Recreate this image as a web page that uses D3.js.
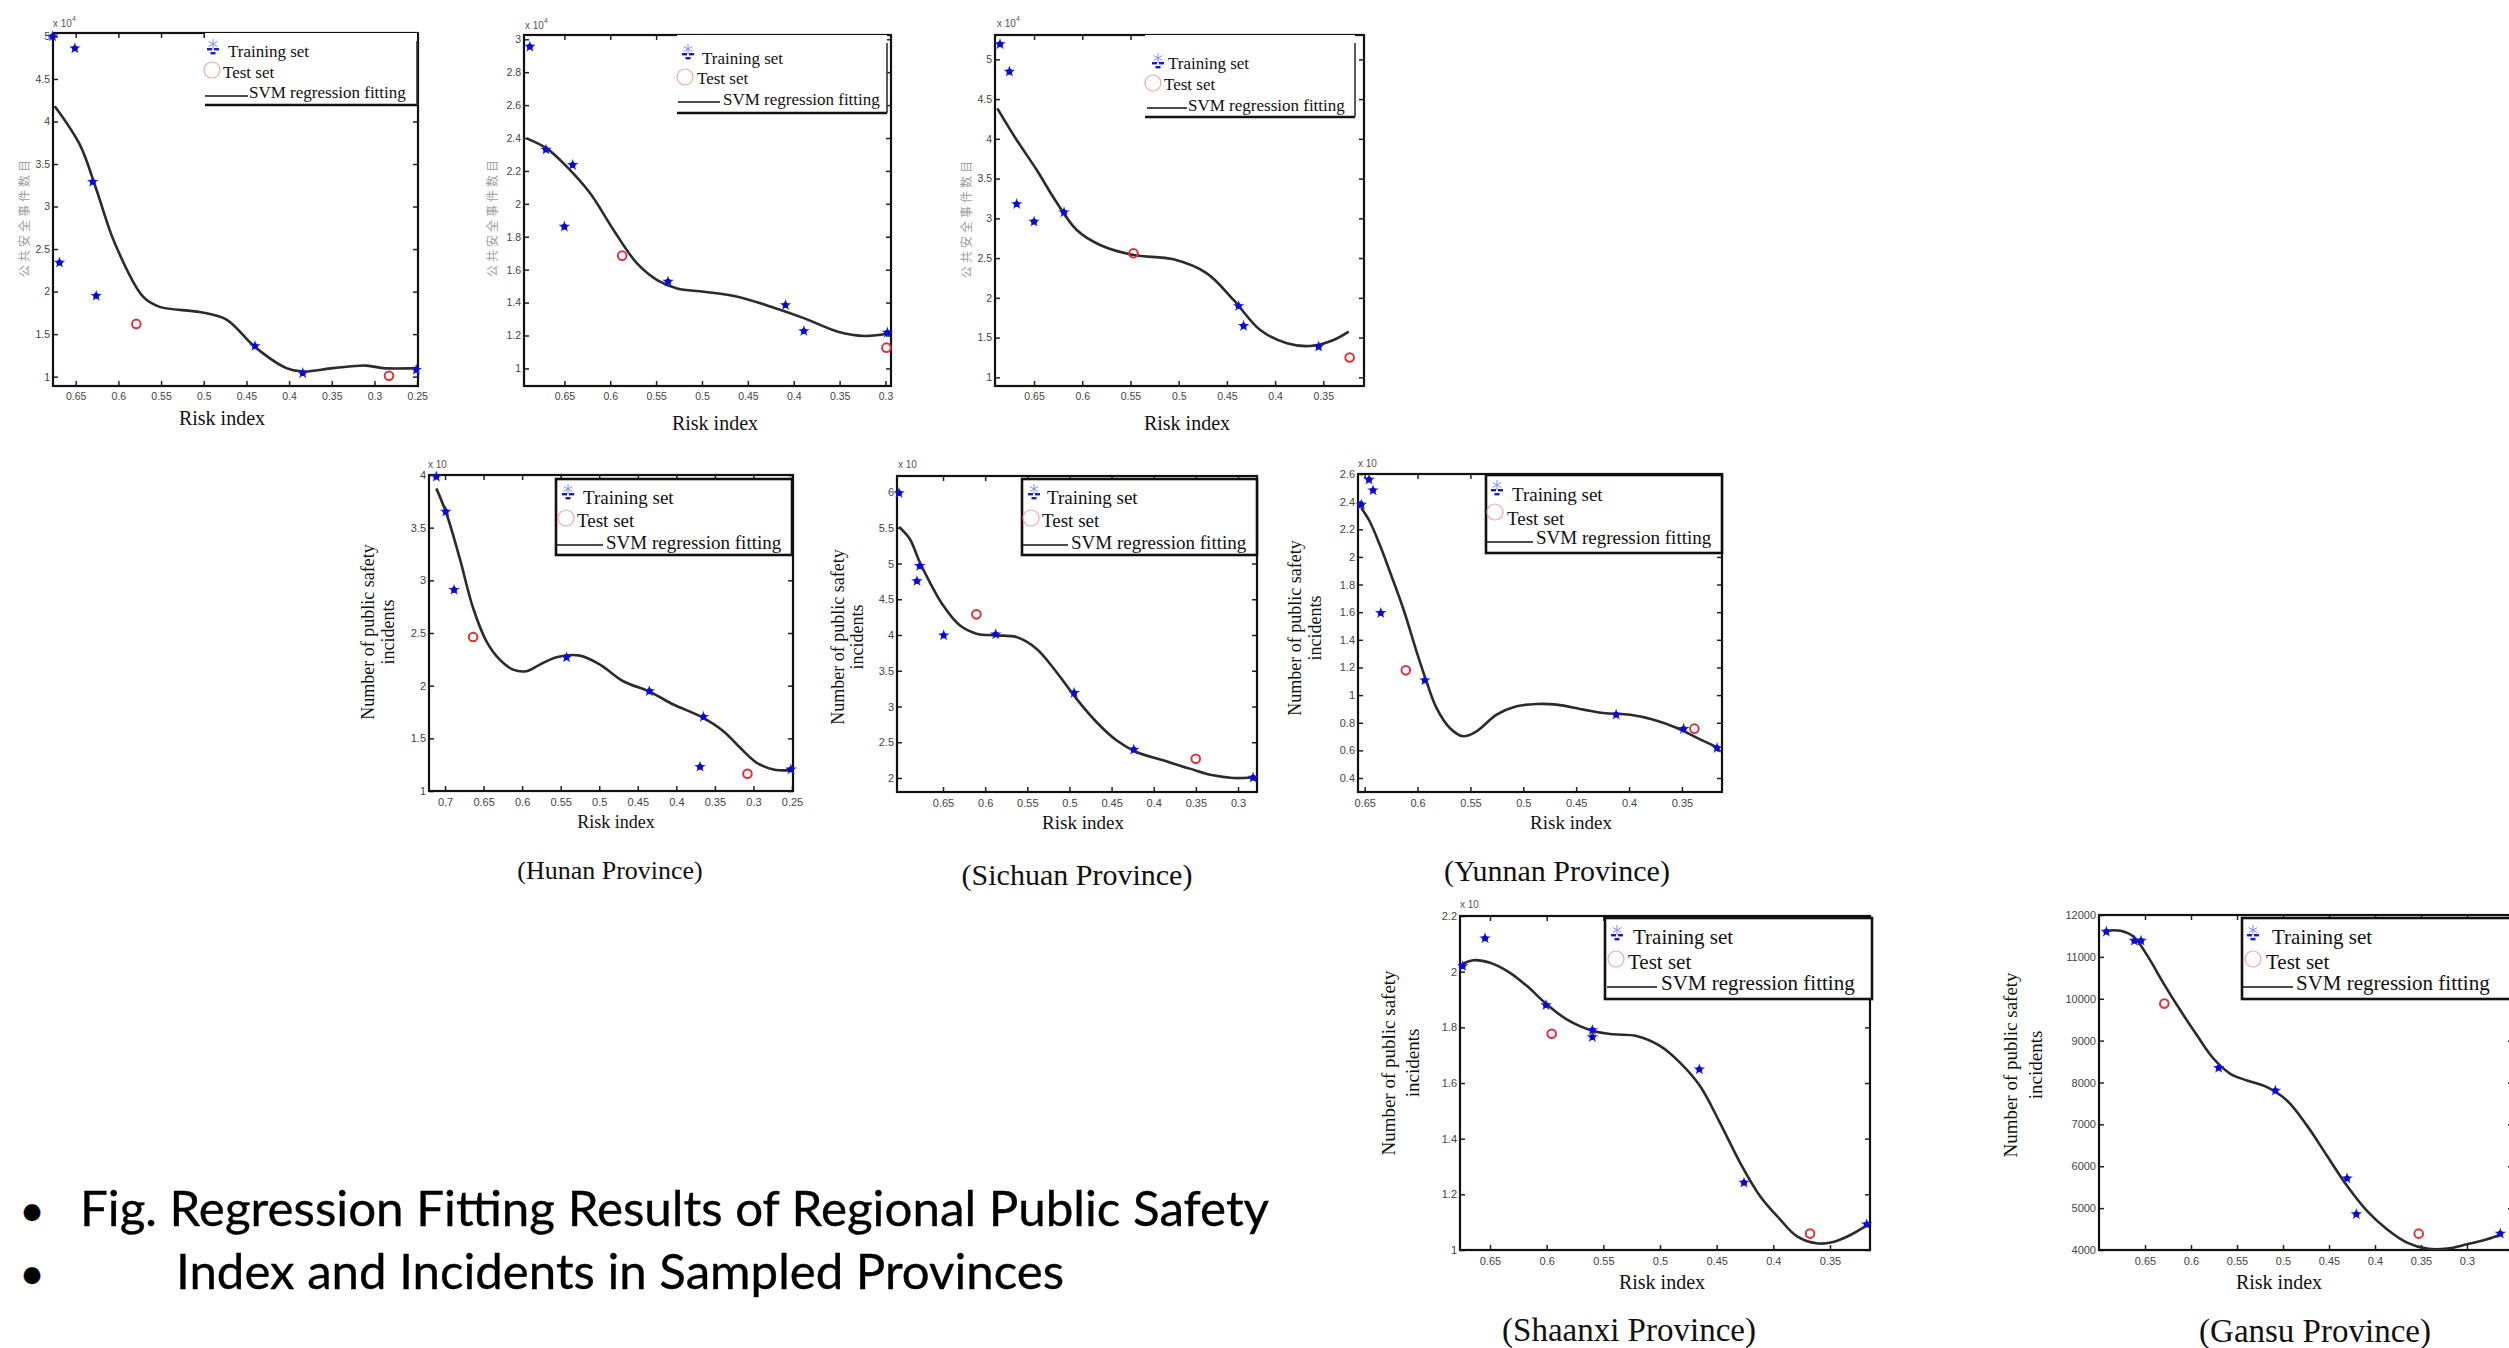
<!DOCTYPE html>
<html>
<head>
<meta charset="utf-8">
<script src="https://cdn.jsdelivr.net/npm/d3@7"></script>
<style>
  html, body { margin: 0; padding: 0; background: #ffffff; }
  svg { display: block; }
</style>
</head>
<body>
<svg id="chart" width="2509" height="1348"></svg>
<script>
// ---------------- DATA ----------------
const provinceNames = ["", "", "", "(Hunan Province)", "(Sichuan Province)", "(Yunnan Province)", "(Shaanxi Province)", "(Gansu Province)"];

const aTrain = [[0.677,5.0],[0.651,4.86],[0.630,3.29],[0.669,2.34],[0.626,1.95],[0.440,1.36],[0.384,1.04],[0.251,1.08]];
const aTest  = [[0.579,1.62],[0.283,1.01]];
const aFit   = [[0.6746,4.18],[0.6453,3.73],[0.6258,3.20],[0.6043,2.57],[0.5711,1.94],[0.5516,1.82],[0.5047,1.76],[0.4734,1.67],[0.4402,1.35],[0.4031,1.10],[0.3836,1.06],[0.3484,1.10],[0.3094,1.13],[0.2898,1.10],[0.2508,1.10]];
const aXTicks = [0.65,0.6,0.55,0.5,0.45,0.4,0.35,0.3,0.25];
const aYTicks = [1,1.5,2,2.5,3,3.5,4,4.5,5];

const bTrain = [[0.6876,2.955],[0.670,2.33],[0.641,2.236],[0.650,1.861],[0.537,1.527],[0.409,1.385],[0.389,1.227],[0.298,1.217]];
const bTest  = [[0.587,1.685],[0.299,1.126]];
const bFit   = [[0.6912,2.398],[0.6693,2.337],[0.6474,2.226],[0.6219,2.064],[0.5964,1.841],[0.5708,1.638],[0.5489,1.537],[0.5270,1.486],[0.4978,1.466],[0.4613,1.436],[0.4248,1.375],[0.3883,1.304],[0.3518,1.223],[0.3226,1.197],[0.2953,1.213]];
const bXTicks = [0.65,0.6,0.55,0.5,0.45,0.4,0.35,0.3];
const bYTicks = [1,1.2,1.4,1.6,1.8,2,2.2,2.4,2.6,2.8,3];

const cTrain = [[0.6853,5.19],[0.6756,4.845],[0.668,3.18],[0.65,2.958],[0.6189,3.075],[0.4379,1.897],[0.4327,1.646],[0.3548,1.386]];
const cTest  = [[0.5469,2.56],[0.3227,1.25]];
const cFit   = [[0.6881,4.384],[0.668,3.985],[0.6472,3.608],[0.6282,3.231],[0.6057,2.853],[0.5815,2.665],[0.5469,2.539],[0.5054,2.484],[0.4708,2.308],[0.4431,1.973],[0.4154,1.595],[0.3877,1.428],[0.3635,1.394],[0.3393,1.470],[0.3237,1.574]];
const cXTicks = [0.65,0.6,0.55,0.5,0.45,0.4,0.35];
const cYTicks = [1,1.5,2,2.5,3,3.5,4,4.5,5];

const hunanTrain = [[0.7113,3.984],[0.6991,3.652],[0.6883,2.91],[0.5424,2.269],[0.4351,1.947],[0.3649,1.704],[0.3693,1.23],[0.2515,1.205]];
const hunanTest  = [[0.6636,2.462],[0.3078,1.164]];
const hunanFit   = [[0.7113,3.873],[0.6983,3.637],[0.681,3.21],[0.6636,2.737],[0.6463,2.421],[0.629,2.247],[0.6117,2.152],[0.5944,2.137],[0.5771,2.2],[0.5554,2.27],[0.5251,2.285],[0.4991,2.2],[0.4688,2.042],[0.4342,1.941],[0.4039,1.821],[0.3693,1.71],[0.339,1.568],[0.3173,1.41],[0.2957,1.268],[0.274,1.205],[0.2524,1.196]];
const hunanXTicks = [0.7,0.65,0.6,0.55,0.5,0.45,0.4,0.35,0.3,0.25];
const hunanYTicks = [1,1.5,2,2.5,3,3.5,4];

const sichuanTrain = [[0.7022,5.986],[0.6809,4.755],[0.6777,4.965],[0.6492,3.995],[0.5875,4.009],[0.4945,3.189],[0.4237,2.396],[0.2821,2.005]];
const sichuanTest  = [[0.6104,4.289],[0.3502,2.27]];
const sichuanFit   = [[0.7022,5.51],[0.6896,5.347],[0.6777,5.021],[0.6658,4.741],[0.65,4.415],[0.6302,4.135],[0.6104,4.019],[0.5867,3.995],[0.563,3.972],[0.5392,3.809],[0.5155,3.483],[0.4918,3.11],[0.468,2.783],[0.4443,2.527],[0.4206,2.364],[0.3889,2.247],[0.3573,2.131],[0.3296,2.037],[0.3059,2.0],[0.294,2.0],[0.2801,2.014]];
const sichuanXTicks = [0.65,0.6,0.55,0.5,0.45,0.4,0.35,0.3];
const sichuanYTicks = [2,2.5,3,3.5,4,4.5,5,5.5,6];

const yunnanTrain = [[0.6532,2.378],[0.6459,2.559],[0.6421,2.482],[0.6348,1.594],[0.5931,1.107],[0.4122,0.858],[0.3484,0.755],[0.3168,0.617]];
const yunnanTest  = [[0.6111,1.179],[0.3382,0.757]];
const yunnanFit   = [[0.6532,2.354],[0.6453,2.258],[0.6358,2.089],[0.6263,1.896],[0.6137,1.63],[0.601,1.317],[0.5916,1.1],[0.5821,0.907],[0.5695,0.762],[0.5568,0.702],[0.5442,0.738],[0.5252,0.858],[0.5063,0.919],[0.4873,0.936],[0.4684,0.931],[0.4431,0.895],[0.4242,0.87],[0.3989,0.858],[0.3768,0.822],[0.3547,0.762],[0.3357,0.69],[0.3152,0.617]];
const yunnanXTicks = [0.65,0.6,0.55,0.5,0.45,0.4,0.35];
const yunnanYTicks = [0.4,0.6,0.8,1,1.2,1.4,1.6,1.8,2,2.2,2.4,2.6];

const shaanxiTrain = [[0.6741,2.020],[0.6544,2.12],[0.6006,1.88],[0.5597,1.79],[0.5597,1.765],[0.4653,1.649],[0.4259,1.242],[0.3176,1.092]];
const shaanxiTest  = [[0.5956,1.777],[0.3676,1.059]];
const shaanxiFit   = [[0.675,2.026],[0.6647,2.041],[0.65,2.032],[0.6324,1.996],[0.6176,1.949],[0.6,1.883],[0.5824,1.829],[0.5588,1.787],[0.5412,1.775],[0.5206,1.769],[0.5,1.733],[0.4824,1.673],[0.4647,1.589],[0.4471,1.457],[0.4294,1.314],[0.4118,1.194],[0.3941,1.11],[0.3794,1.05],[0.3618,1.024],[0.3471,1.029],[0.3324,1.053],[0.3162,1.092]];
const shaanxiXTicks = [0.65,0.6,0.55,0.5,0.45,0.4,0.35];
const shaanxiYTicks = [1,1.2,1.4,1.6,1.8,2,2.2];

const gansuTrain = [[0.692,11601],[0.6616,11385],[0.6543,11385],[0.5699,8351],[0.5083,7808],[0.4304,5709],[0.4203,4854],[0.2638,4391]];
const gansuTest  = [[0.629,9884],[0.3525,4391]];
const gansuFit   = [[0.6931,11625],[0.6768,11625],[0.6623,11481],[0.6478,11042],[0.6297,10363],[0.6116,9725],[0.5935,9126],[0.5754,8567],[0.5572,8208],[0.5391,8048],[0.5174,7888],[0.4957,7569],[0.4739,6970],[0.4522,6252],[0.4304,5533],[0.4087,4934],[0.387,4495],[0.3652,4176],[0.3435,4032],[0.3217,4032],[0.3,4136],[0.2783,4255],[0.262,4375]];
const gansuXTicks = [0.65,0.6,0.55,0.5,0.45,0.4,0.35,0.3];
const gansuYTicks = [4000,5000,6000,7000,8000,9000,10000,11000,12000];

const legendLabels = ["Training set", "Test set", "SVM regression fitting"];
const xAxisTitle = "Risk index";
const yAxisTitleEn = ["Number of public safety", "incidents"];
const yAxisTitleZh = "公共安全事件数目";
const captionLines = ["Fig.  Regression Fitting Results of Regional Public Safety", "Index and Incidents in Sampled Provinces"];

// ---------------- LAYOUT ----------------
const SERIF = "'Liberation Serif','Times New Roman',serif";
const SANS = "'Liberation Sans',Arial,sans-serif";
const svg = d3.select("#chart");

const panels = [
  { train: aTrain, test: aTest, fit: aFit, xt: aXTicks, yt: aYTicks,
    box: [53, 418, 33, 386], xDom: [0.6766, 0.249], yDom: [0.89, 5.04], top: true,
    exp: { x: 53, y: 27, sup: "4" }, zh: { x: 23, y: 217 }, risk: { x: 222, y: 418, fs: 20 },
    leg: { l: 205, r: 417, t: 33, b: 105, open: true, fs: 17,
      mk: [213, 49], t1: [228, 51], c: [212, 70], t2: [223, 72], line: [205, 248, 96], t3: [249, 92] } },
  { train: bTrain, test: bTest, fit: bFit, xt: bXTicks, yt: bYTicks,
    box: [524, 891, 35, 386], xDom: [0.694, 0.294], yDom: [0.893, 3.026], top: true,
    exp: { x: 525, y: 29, sup: "4" }, zh: { x: 491, y: 217 }, risk: { x: 715, y: 423, fs: 20 },
    leg: { l: 677, r: 887, t: 35, b: 113, open: true, fs: 17,
      mk: [688, 54], t1: [702, 58], c: [685, 77], t2: [697, 78], line: [678, 720, 102], t3: [723, 99] } },
  { train: cTrain, test: cTest, fit: cFit, xt: cXTicks, yt: cYTicks,
    box: [995, 1364, 35, 386], xDom: [0.6905, 0.3078], yDom: [0.891, 5.306], top: true,
    exp: { x: 997, y: 27, sup: "4" }, zh: { x: 965, y: 218 }, risk: { x: 1187, y: 423, fs: 20 },
    leg: { l: 1145, r: 1355, t: 35, b: 117, open: true, fs: 17,
      mk: [1158, 63], t1: [1168, 63], c: [1153, 83], t2: [1164, 84], line: [1147, 1187, 108], t3: [1188, 105] } },
  { train: hunanTrain, test: hunanTest, fit: hunanFit, xt: hunanXTicks, yt: hunanYTicks,
    box: [429, 793, 475, 791], xDom: [0.7208, 0.2487], yDom: [1, 4],
    exp: { x: 428, y: 468 }, ylab: { x1: 368, x2: 388, y: 632, fs: 18 }, risk: { x: 616, y: 822, fs: 18 },
    name: { x: 610, y: 870, fs: 26 },
    leg: { l: 556, r: 792, t: 479, b: 555, fs: 19,
      mk: [568, 494], t1: [583, 497], c: [566, 518], t2: [577, 520], line: [557, 603, 545], t3: [606, 542] } },
  { train: sichuanTrain, test: sichuanTest, fit: sichuanFit, xt: sichuanXTicks, yt: sichuanYTicks,
    box: [897, 1257, 476, 792], xDom: [0.7046, 0.2775], yDom: [1.804, 6.224],
    exp: { x: 898, y: 468 }, ylab: { x1: 838, x2: 857, y: 637, fs: 18 }, risk: { x: 1083, y: 822, fs: 19 },
    name: { x: 1077, y: 874, fs: 30 },
    leg: { l: 1022, r: 1257, t: 479, b: 555, fs: 19,
      mk: [1034, 494], t1: [1047, 497], c: [1031, 518], t2: [1042, 520], line: [1023, 1068, 545], t3: [1071, 542] } },
  { train: yunnanTrain, test: yunnanTest, fit: yunnanFit, xt: yunnanXTicks, yt: yunnanYTicks,
    box: [1358, 1722, 474, 792], xDom: [0.6563, 0.3121], yDom: [0.2987, 2.6],
    exp: { x: 1358, y: 467 }, ylab: { x1: 1295, x2: 1315, y: 628, fs: 18 }, risk: { x: 1571, y: 822, fs: 19 },
    name: { x: 1557, y: 870, fs: 30 },
    leg: { l: 1486, r: 1722, t: 475, b: 553, fs: 19,
      mk: [1497, 490], t1: [1512, 494], c: [1495, 512], t2: [1507, 518], line: [1487, 1533, 542], t3: [1536, 537] } },
  { train: shaanxiTrain, test: shaanxiTest, fit: shaanxiFit, xt: shaanxiXTicks, yt: shaanxiYTicks,
    box: [1460, 1870, 916, 1250], xDom: [0.6765, 0.3147], yDom: [1, 2.2],
    exp: { x: 1460, y: 908 }, ylab: { x1: 1388, x2: 1412, y: 1063, fs: 19 }, risk: { x: 1662, y: 1282, fs: 20 },
    name: { x: 1629, y: 1330, fs: 33 },
    leg: { l: 1605, r: 1872, t: 918, b: 999, fs: 21,
      mk: [1617, 935], t1: [1633, 937], c: [1616, 959], t2: [1628, 962], line: [1607, 1657, 987], t3: [1661, 983] } },
  { train: gansuTrain, test: gansuTest, fit: gansuFit, xt: gansuXTicks, yt: gansuYTicks,
    box: [2099, 2513, 915, 1250], xDom: [0.7, 0.25], yDom: [4000, 12000],
    ylab: { x1: 2010, x2: 2035, y: 1065, fs: 19 }, risk: { x: 2279, y: 1282, fs: 20 },
    name: { x: 2315, y: 1331, fs: 33 },
    leg: { l: 2242, r: 2530, t: 918, b: 999, fs: 21,
      mk: [2253, 935], t1: [2272, 937], c: [2253, 959], t2: [2266, 962], line: [2243, 2293, 987], t3: [2296, 983] } }
];

const starSym = d3.symbol().type(d3.symbolStar).size(42);
const blobSym = d3.symbol().type(d3.symbolCircle).size(26);
const asteriskSym = d3.symbol().type(d3.symbolAsterisk).size(70);

panels.forEach((p, i) => {
  const g = svg.append("g").attr("class", "panel-" + i);
  const [x0, x1, y0, y1] = p.box;
  const x = d3.scaleLinear().domain(p.xDom).range([x0, x1]);
  const y = d3.scaleLinear().domain(p.yDom).range([y1, y0]);
  const fmt = v => String(v);

  const tickCol = "#444";
  const axB = g.append("g").attr("transform", `translate(0,${y1})`)
    .call(d3.axisBottom(x).tickValues(p.xt).tickSize(-5).tickPadding(7).tickFormat(fmt));
  const axT = g.append("g").attr("transform", `translate(0,${y0})`)
    .call(d3.axisTop(x).tickValues(p.xt).tickSize(-5).tickFormat(""));
  const axL = g.append("g").attr("transform", `translate(${x0},0)`)
    .call(d3.axisLeft(y).tickValues(p.yt).tickSize(-5).tickPadding(3).tickFormat(fmt));
  const axR = g.append("g").attr("transform", `translate(${x1},0)`)
    .call(d3.axisRight(y).tickValues(p.yt).tickSize(-5).tickFormat(""));
  [axB, axT, axL, axR].forEach(a => {
    a.select(".domain").remove();
    a.selectAll(".tick line").attr("stroke", "#222").attr("stroke-width", 1.5);
    a.selectAll(".tick text").attr("fill", tickCol).attr("font-family", SANS)
      .attr("font-size", p.top ? 10.5 : 11);
  });

  g.append("rect").attr("x", x0).attr("y", y0).attr("width", x1 - x0).attr("height", y1 - y0)
    .attr("fill", "none").attr("stroke", "#111").attr("stroke-width", 2.2);

  const line = d3.line().x(d => x(d[0])).y(d => y(d[1])).curve(d3.curveCatmullRom.alpha(0.5));
  g.append("path").datum(p.fit).attr("d", line)
    .attr("fill", "none").attr("stroke", "#2b2b2b").attr("stroke-width", 2.6);

  const tg = g.append("g");
  p.train.forEach(d => {
    const tx = x(d[0]), ty = y(d[1]);
    tg.append("path").attr("d", starSym).attr("transform", `translate(${tx},${ty})`).attr("fill", "#2020ee");
    tg.append("path").attr("d", blobSym).attr("transform", `translate(${tx},${ty})`).attr("fill", "#0c0cc8");
  });
  g.append("g").selectAll("circle").data(p.test).join("circle")
    .attr("cx", d => x(d[0])).attr("cy", d => y(d[1])).attr("r", 4.3)
    .attr("fill", "none").attr("stroke", "#e0303a").attr("stroke-width", 2);

  const L = p.leg;
  const lg = g.append("g");
  if (L.open) {
    lg.append("rect").attr("x", L.l).attr("y", L.t).attr("width", L.r - L.l).attr("height", L.b - L.t).attr("fill", "#fff");
    lg.append("line").attr("x1", L.l).attr("x2", L.r).attr("y1", L.b).attr("y2", L.b).attr("stroke", "#111").attr("stroke-width", 2.6);
    lg.append("line").attr("x1", L.r).attr("x2", L.r).attr("y1", L.t + 8).attr("y2", L.b).attr("stroke", "#333").attr("stroke-width", 1.6);
  } else {
    lg.append("rect").attr("x", L.l).attr("y", L.t).attr("width", L.r - L.l).attr("height", L.b - L.t)
      .attr("fill", "#fff").attr("stroke", "#111").attr("stroke-width", 2.6);
  }
  lg.append("path").attr("d", asteriskSym).attr("transform", `translate(${L.mk[0]},${L.mk[1] - 5})`)
    .attr("fill", "none").attr("stroke", "#7d8cff").attr("stroke-width", 1);
  [[-6, 0], [1, 0], [-2.5, 4]].forEach(o => {
    lg.append("rect").attr("x", L.mk[0] + o[0]).attr("y", L.mk[1] + o[1] - 1).attr("width", 5).attr("height", 2.4).attr("fill", "#1a1ad0");
  });
  lg.append("circle").attr("cx", L.c[0]).attr("cy", L.c[1]).attr("r", 8)
    .attr("fill", "none").attr("stroke", "#f0a5a5").attr("stroke-width", 1.2);
  lg.append("line").attr("x1", L.line[0]).attr("x2", L.line[1]).attr("y1", L.line[2]).attr("y2", L.line[2])
    .attr("stroke", "#111").attr("stroke-width", 1.6);
  [[L.t1, 0], [L.t2, 1], [L.t3, 2]].forEach(([pos, k]) => {
    lg.append("text").attr("x", pos[0]).attr("y", pos[1]).attr("dominant-baseline", "central")
      .attr("font-family", SERIF).attr("font-size", L.fs).attr("fill", "#111").text(legendLabels[k]);
  });

  if (p.exp) {
    const e = g.append("text").attr("x", p.exp.x).attr("y", p.exp.y).attr("font-family", SANS)
      .attr("font-size", 10).attr("fill", "#555").text("x 10");
    if (p.exp.sup) e.append("tspan").attr("dy", -6).attr("font-size", 7).text(p.exp.sup);
  }

  g.append("text").attr("x", p.risk.x).attr("y", p.risk.y).attr("text-anchor", "middle")
    .attr("dominant-baseline", "central").attr("font-family", SERIF).attr("font-size", p.risk.fs)
    .attr("fill", "#111").text(xAxisTitle);
  if (p.zh) {
    g.append("text").attr("transform", `translate(${p.zh.x},${p.zh.y}) rotate(-90)`)
      .attr("text-anchor", "middle").attr("dominant-baseline", "central")
      .attr("font-family", "'Noto Sans CJK SC',sans-serif").attr("font-size", 12)
      .attr("letter-spacing", 3).attr("fill", "#a0a0a0").text(yAxisTitleZh);
  }
  if (p.ylab) {
    [p.ylab.x1, p.ylab.x2].forEach((cx, k) => {
      g.append("text").attr("transform", `translate(${cx},${p.ylab.y}) rotate(-90)`)
        .attr("text-anchor", "middle").attr("dominant-baseline", "central")
        .attr("font-family", SERIF).attr("font-size", p.ylab.fs).attr("fill", "#111").text(yAxisTitleEn[k]);
    });
  }
  if (p.name) {
    g.append("text").attr("x", p.name.x).attr("y", p.name.y).attr("text-anchor", "middle")
      .attr("dominant-baseline", "central").attr("font-family", SERIF).attr("font-size", p.name.fs)
      .attr("fill", "#111").text(provinceNames[i]);
  }
});

// caption
const cap = svg.append("g").attr("font-family", "Lato,'Open Sans',sans-serif").attr("fill", "#000")
  .attr("stroke", "#000").attr("stroke-width", 0.35);
[[1226, 80, 1189], [1289, 176, 888]].forEach((c, k) => {
  cap.append("text").attr("x", 32).attr("y", c[0]).attr("text-anchor", "middle").attr("font-size", 44).text("•");
  cap.append("text").attr("x", c[1]).attr("y", c[0]).attr("font-size", 49)
    .attr("textLength", c[2]).attr("lengthAdjust", "spacingAndGlyphs").text(captionLines[k]);
});
</script>
</body>
</html>
